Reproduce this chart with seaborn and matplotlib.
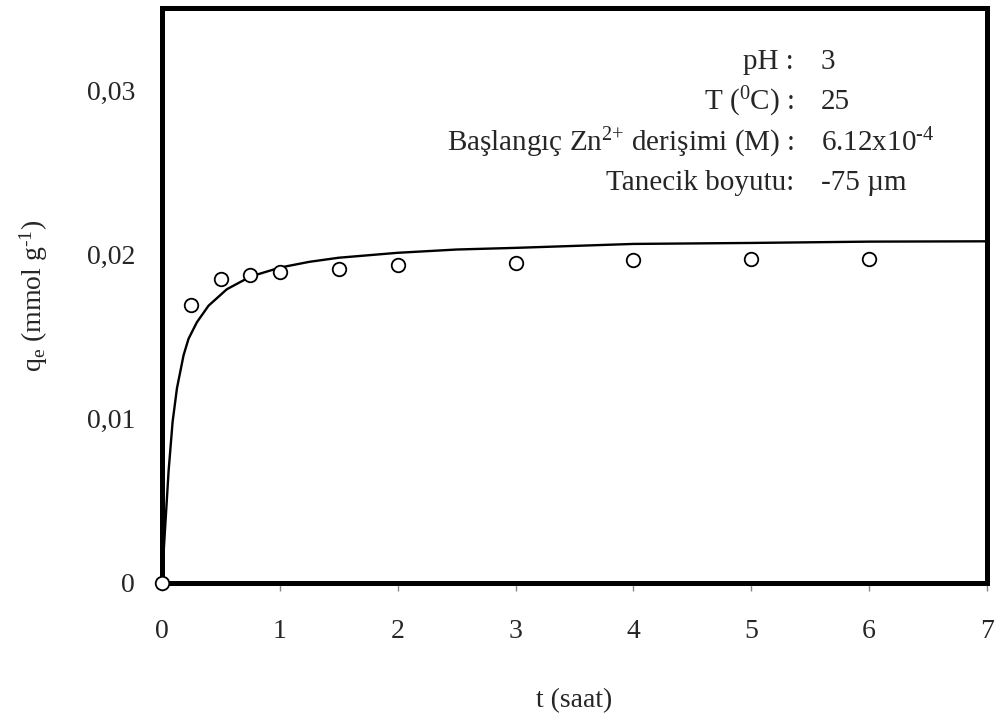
import matplotlib
matplotlib.use("Agg")
import matplotlib.pyplot as plt
import seaborn as sns
import pandas as pd

# Experimental points
t_exp = [0, 0.25, 0.5, 0.75, 1.0, 1.5, 2.0, 3.0, 4.0, 5.0, 6.0]
q_exp = [0.0, 0.01692, 0.01849, 0.01873, 0.01895, 0.01909, 0.01933,
         0.01949, 0.01966, 0.01973, 0.0197]

# Model curve, values
t_fit = [0, 0.005, 0.022, 0.056, 0.09, 0.127, 0.183, 0.225, 0.296, 0.395,
         0.55, 0.75, 1.0, 1.25, 1.5, 2.0, 2.5, 3.0, 4.0, 5.0, 6.0, 7.0]
q_fit = [0.0, 0.0008, 0.0028, 0.0068, 0.0098, 0.01185, 0.01386, 0.01486,
         0.01587, 0.01688, 0.01788, 0.01865, 0.0192, 0.01955, 0.0198, 0.0201,
         0.0203, 0.0204, 0.02064, 0.0207, 0.02078, 0.0208]

x_ticks = [0, 1, 2, 3, 4, 5, 6, 7]
y_ticks = [0, 0.01, 0.02, 0.03]
y_tick_labels = ["0", "0,01", "0,02", "0,03"]

info_labels = ["pH :", r"T ($^{\text{0}}$C) :",
               r"Başlangıç Zn$^{\text{2+}}$ derişimi (M) :", "Tanecik boyutu:"]
info_values = ["3", "25", r"6.12x10$^{\text{-4}}$", "-75 µm"]

sns.set_theme(style="white")
plt.rcParams['font.family'] = ['Liberation Serif', 'DejaVu Serif']
plt.rcParams['mathtext.fontset'] = 'custom'
plt.rcParams['mathtext.rm'] = 'Liberation Serif'
plt.rcParams['mathtext.it'] = 'Liberation Serif:italic'
plt.rcParams['mathtext.bf'] = 'Liberation Serif:bold'

fig = plt.figure(figsize=(9.98, 7.17), dpi=100)
ax = fig.add_axes([0.1623, 0.1869, 0.989 - 0.1623, 0.9888 - 0.1869])

df_fit = pd.DataFrame({"t": t_fit, "q": q_fit})
df_exp = pd.DataFrame({"t": t_exp, "q": q_exp})

sns.lineplot(data=df_fit, x="t", y="q", ax=ax, color="black", linewidth=1.7,
             sort=False, zorder=3)
sns.scatterplot(data=df_exp, x="t", y="q", ax=ax, marker="o", s=95,
                facecolor="white", edgecolor="black", linewidth=1.3,
                zorder=5, clip_on=False)

ax.set_xlim(0, 7)
ax.set_ylim(0, 0.035)
ax.set_xticks(x_ticks)
ax.set_xticklabels([str(v) for v in x_ticks])
ax.set_yticks(y_ticks)
ax.set_yticklabels(y_tick_labels)

ax.tick_params(axis="x", direction="out", length=6, width=1, color="#888888",
               pad=20, labelsize=20, bottom=True)
ax.tick_params(axis="y", length=0, pad=19.5, labelsize=20, left=True)

for s in ax.spines.values():
    s.set_color("black")
    s.set_linewidth(3.6)
    s.set_visible(True)

ax.set_xlabel("t (saat)", fontsize=20, labelpad=32)
ax.set_ylabel(r"q$_{\text{e}}$ (mmol g$^{\text{-1}}$)", fontsize=20, labelpad=26)

# Info block
x_lab = 794
x_val = 821
y_rows = [62, 102, 143, 183]
for lab, val, yy in zip(info_labels, info_values, y_rows):
    fig.text(x_lab / 998, 1 - yy / 717, lab, ha="right", va="center", fontsize=21)
    fig.text(x_val / 998, 1 - yy / 717, val, ha="left", va="center", fontsize=21)

fig.savefig("out.png", dpi=100)
